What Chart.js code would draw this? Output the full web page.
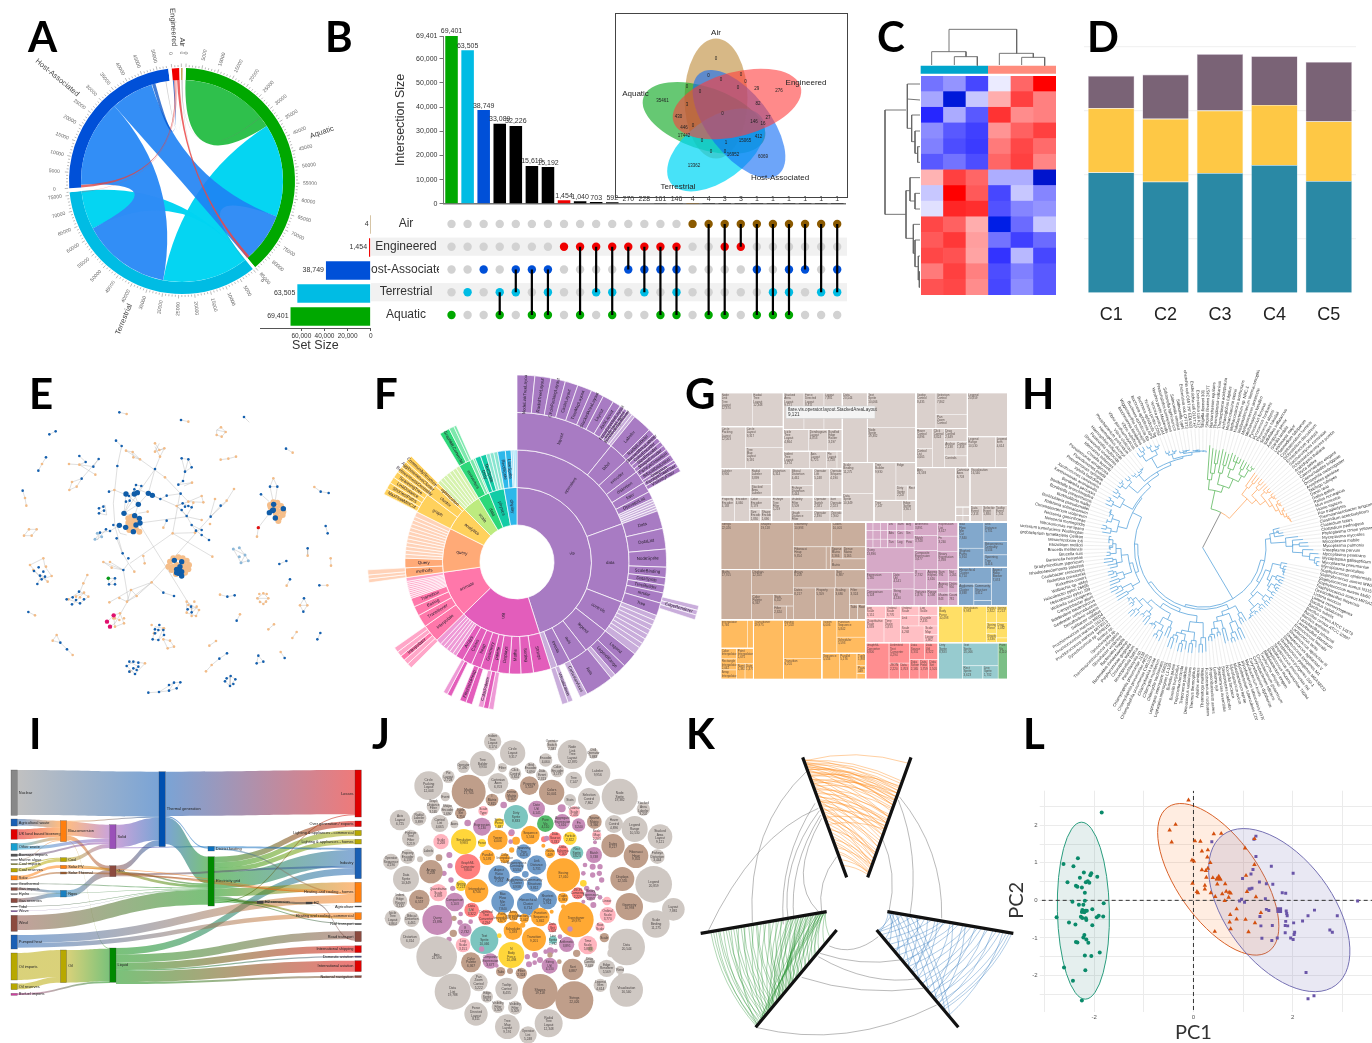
<!DOCTYPE html>
<html>
<head>
<meta charset="utf-8">
<title>Chart gallery</title>
<script src="https://cdn.jsdelivr.net/npm/chart.js@4"></script>
<style>
  html, body { margin: 0; background: #fff; overflow: hidden; }
  canvas { position: absolute; }
  .tag { position: absolute; font: 700 42px Lato, "Liberation Sans", sans-serif; color: #000; line-height: 42px; }
</style>
</head>
<body>
<script>
// ---------- A: chord ----------
const chordSets = ['Aquatic', '', 'Terrestrial', '', 'Host-Associated', '', 'Engineered', '', 'Air', ''];
const chordValues = [85000, 926, 76000, 1235, 53500, 1111, 2400, 617, 400, 1033];
const chordColors = ['#00A800', '#fff', '#00BCE4', '#fff', '#0050D8', '#fff', '#F00000', '#fff', '#A87000', '#fff'];
// from set, from value, to value, to set, from value, to value, colour
const chordFlows = [
  [0, 0, 34000, 0, 0, 0, 'rgba(40,190,70,.97)'],
  [0, 34000, 67000, 2, 0, 30600, 'rgba(0,212,242,.98)'],
  [2, 62200, 76000, 2, 0, 0, 'rgba(0,212,242,.98)'],
  [4, 1000, 31900, 2, 30600, 62200, 'rgba(46,140,246,.98)'],
  [0, 67000, 85000, 4, 31900, 47000, 'rgba(30,130,244,.9)'],
  [4, 47200, 48400, 6, 0, 400, 'rgba(0,80,200,.75)'],
  [4, 0, 900, 6, 500, 800, 'rgba(220,70,70,.8)'],
  [0, 84000, 85000, 6, 1500, 2400, 'rgba(235,70,70,.85)'],
  [6, 800, 1500, 2, 75500, 75800, 'rgba(235,70,70,.3)'],
  [8, 0, 200, 0, 30000, 30300, 'rgba(120,120,120,.35)'],
  [8, 200, 400, 4, 52000, 52300, 'rgba(120,120,120,.35)'],
  [8, 100, 300, 2, 200, 400, 'rgba(120,120,120,.3)']
];

// ---------- B: upset ----------
const intersectionLabels = ['A', 'T', 'H', 'TA', 'HT', 'HA', 'HTA', 'E', 'EA', 'ET', 'ETA', 'EH', 'EHT', 'EHA', 'EHTA', 'Air', 'AirA', 'AirEA', 'AirE', 'AirHA', 'AirTA', 'AirHTA', 'AirH', 'AirT', 'AirHT'];
const intersectionValues = [69401, 63505, 38749, 33089, 32226, 15619, 15192, 1454, 1040, 703, 592, 270, 228, 161, 146, 4, 4, 3, 3, 1, 1, 1, 1, 1, 1];
const intersectionColors = ['#00A800', '#00BCE4', '#0050D8', '#000', '#000', '#000', '#000', '#F00000', '#000', '#000', '#000', '#000', '#000', '#000', '#000', '#A06000', '#000', '#000', '#000', '#000', '#000', '#000', '#000', '#000', '#000'];
const setNames = ['Air', 'Engineered', 'Host-Associated', 'Terrestrial', 'Aquatic'];
const setSizes = [4, 1454, 38749, 63505, 69401];
const setColors = ['#8B5A00', '#F00000', '#0050D8', '#00BCE4', '#00A800'];
const memberships = [[4], [3], [2], [3, 4], [2, 3], [2, 4], [2, 3, 4], [1], [1, 4], [1, 3], [1, 3, 4], [1, 2], [1, 2, 3], [1, 2, 4], [1, 2, 3, 4], [0], [0, 4], [0, 1, 4], [0, 1], [0, 2, 4], [0, 3, 4], [0, 2, 3, 4], [0, 2], [0, 3], [0, 2, 3]];
const vennLabels = [['Air', 716, 33], ['Engineered', 806, 83], ['Aquatic', 635.5, 94], ['Host-Associated', 780, 178], ['Terrestrial', 678, 187]];
const vennCounts = [['0', 716, 59], ['35461', 662.6, 101], ['276', 779, 91], ['13362', 694, 166], ['6069', 763, 157], ['0', 722.6, 114], ['17442', 684, 136], ['15065', 745, 141], ['16952', 733, 155], ['412', 758.5, 137], ['146', 754, 122], ['430', 678.5, 117], ['446', 684, 128], ['82', 758, 104], ['29', 756.7, 89], ['27', 768, 118], ['16', 763, 124], ['3', 687, 105], ['1', 726, 143], ['0', 708.5, 76], ['0', 741, 75], ['0', 721, 80], ['0', 687, 87], ['0', 700, 92], ['0', 745.5, 82], ['0', 738, 88], ['0', 693, 126], ['0', 702, 141], ['0', 711, 152], ['0', 725, 152]];
// centre x, centre y, semi major, semi minor, rotation degrees, colour
const vennEllipses = [
  [716, 98.5, 60, 31.5, 90, 'rgba(190,140,60,.62)'],
  [704, 118, 64, 31, 19, 'rgba(20,170,40,.65)'],
  [716, 150, 56, 31, -36, 'rgba(0,215,245,.72)'],
  [739, 124, 64, 31, 52, 'rgba(20,110,245,.62)'],
  [737, 104, 66, 32, -15, 'rgba(255,60,60,.6)']
];

// ---------- C: heatmap ----------
const heatColumns = ['s1', 's2', 's3', 's4', 's5', 's6'];
const heatRows = [
  [-.55, -.42, -.72, -.08, .6, 1], [-.35, -1.15, -.22, .32, .75, .5], [-.85, -.33, -.65, .8, .45, .5],
  [-.45, -.65, -.75, .42, .62, .75], [-.5, -.7, -.77, .52, .72, .58], [-.65, -.55, -.7, .6, .75, .48],
  [.3, .75, .6, -.32, -.32, -1.2], [-.22, 1, .65, -.72, -.22, -.48], [-.12, .85, .82, -.68, -.48, -.42],
  [.72, .62, .32, -1.1, -.58, -.22], [.65, .78, .38, -.55, -.75, -.58], [.72, .68, .36, -.8, -.28, -.72],
  [.52, .75, .5, -.7, -.5, -.65], [.68, .72, .45, -.72, -.45, -.65]
];
const heatDendro = [
  [237, 155, 237, 88, 440, 88, 440, 160], [185, 195, 185, 155, 288, 155, 288, 170], [253, 195, 253, 170, 322, 170, 322, 197],
  [388, 195, 388, 160, 490, 160, 490, 172], [455, 195, 455, 172, 524, 172, 524, 197],
  [108, 330, 45, 330, 45, 643, 108, 643], [150, 252, 112, 252, 112, 385, 125, 385], [112, 297, 150, 300],
  [150, 345, 125, 345, 125, 425, 135, 425], [150, 393, 135, 393, 135, 460, 143, 460], [150, 440, 143, 440, 143, 487, 150, 487],
  [108, 572, 108, 715, 130, 715], [108, 572, 120, 572], [150, 533, 120, 533, 120, 603, 135, 603], [150, 580, 135, 580, 135, 627, 150, 627],
  [150, 673, 130, 673, 130, 760, 135, 760], [150, 720, 135, 720, 135, 800, 145, 800], [150, 768, 145, 768, 145, 840, 150, 840], [150, 815, 148, 815, 148, 862, 150, 862]
];

// ---------- D: stacked bars ----------
const clusterLabels = ['C1', 'C2', 'C3', 'C4', 'C5'];
const clusterTeal = [1.875, 1.73, 1.865, 1.99, 1.74];
const clusterYellow = [1.0, .98, .974, .9375, .93];
const clusterPurple = [.505, .69, .88, .76, .927];

// ---------- E: network ----------
const netEdges = [
  [358, 127, 380, 132], [543, 150, 565, 155], [732, 141, 748, 157], [148, 193, 167, 184], [138, 262, 126, 282, 115, 302], [68, 362, 75, 384, 79, 407], [858, 236, 878, 248], [662, 269, 685, 266, 708, 260],
  [348, 212, 365, 228, 352, 288, 340, 400, 345, 470, 368, 550, 385, 580, 403, 605], [207, 282, 238, 284, 257, 276, 238, 258], [238, 284, 280, 290, 296, 267, 245, 326, 230, 350, 208, 360, 216, 336, 245, 326], [238, 284, 286, 314],
  [378, 242, 420, 268, 495, 322, 565, 395], [378, 242, 398, 246, 420, 268], [398, 246, 400, 262, 420, 268], [465, 220, 478, 240, 493, 235, 480, 260, 465, 297, 445, 370], [465, 230, 480, 260], [465, 297, 372, 430],
  [545, 265, 565, 268, 575, 292, 555, 305, 549, 333, 535, 344, 576, 338, 552, 348], [545, 265, 555, 305], [565, 268, 555, 305], [327, 365, 343, 360, 372, 372, 403, 372, 424, 362, 445, 370, 481, 387, 500, 377, 542, 371],
  [372, 430, 408, 345], [372, 430, 378, 372], [372, 430, 415, 403, 445, 370], [415, 403, 378, 372], [403, 372, 415, 403], [408, 345, 424, 348, 412, 368, 403, 372], [372, 430, 404, 437], [404, 437, 415, 403], [420, 459, 560, 440, 605, 450], [415, 430, 443, 425],
  [457, 376, 530, 408, 560, 438], [530, 408, 565, 395, 605, 378, 610, 397, 565, 395], [530, 408, 548, 400, 575, 412, 560, 438, 545, 420, 530, 408], [575, 412, 580, 398],
  [518, 490, 540, 370], [518, 490, 585, 488], [518, 490, 637, 560], [518, 490, 390, 580], [500, 452, 490, 473], [560, 438, 575, 465, 588, 482, 605, 495, 627, 510], [575, 465, 605, 480], [630, 440, 645, 387], [632, 440, 662, 407, 680, 392, 702, 357], [632, 440, 680, 395],
  [455, 637, 632, 440], [381, 695, 455, 637], [381, 695, 393, 660, 455, 637], [381, 695, 410, 678, 455, 637], [328, 697, 393, 660], [358, 684, 381, 695], [370, 600, 385, 690, 345, 760], [370, 600, 310, 576, 335, 593, 370, 600], [330, 576, 370, 600], [385, 580, 370, 600], [350, 505, 367, 550], [420, 465, 575, 715],
  [455, 637, 490, 668, 522, 678], [430, 558, 434, 580], [394, 660, 410, 678], [285, 508, 300, 488, 330, 483, 358, 466, 378, 472], [300, 488, 292, 510, 318, 478], [350, 465, 360, 490, 380, 495], [297, 415, 315, 405, 320, 435, 297, 430, 310, 420], [72, 497, 87, 478, 110, 478, 95, 497, 72, 497],
  [85, 726, 105, 736], [158, 812, 170, 795, 181, 818, 201, 838, 218, 855], [158, 812, 181, 818], [660, 674, 682, 680, 704, 676], [720, 733, 710, 752], [822, 763, 805, 778], [890, 786, 877, 804], [961, 789, 952, 808], [648, 813, 628, 827], [842, 846, 854, 864], [681, 850, 658, 866, 635, 885, 618, 904],
  [775, 857, 770, 880, 790, 875, 775, 857], [870, 628, 860, 647], [958, 646, 982, 646], [923, 535, 923, 557], [992, 565, 993, 587], [838, 582, 859, 573], [977, 468, 983, 490], [943, 351, 962, 365, 986, 369], [783, 373, 808, 395], [775, 473, 771, 500], [775, 473, 808, 430], [820, 325, 810, 350, 832, 350, 820, 325], [810, 350, 820, 397], [832, 350, 825, 397],
  [445, 968, 477, 966, 507, 962, 522, 938, 541, 937, 530, 955, 507, 962], [477, 966, 522, 938], [325, 625, 327, 643, 345, 643, 345, 625, 325, 625], [345, 625, 327, 643], [912, 685, 900, 706, 910, 725, 922, 706, 912, 685], [900, 706, 922, 706],
  [700, 537, 735, 555, 745, 572, 723, 578, 700, 537], [718, 533, 735, 555, 723, 578], [560, 695, 597, 720, 588, 738, 560, 728, 560, 695], [575, 705, 575, 730, 590, 712, 565, 718],
  [650, 180, 663, 172, 677, 186, 665, 200, 650, 195, 650, 180], [650, 180, 677, 186], [465, 770, 490, 775, 492, 795, 475, 810, 458, 808, 465, 770], [465, 790, 490, 775, 475, 810], [490, 808, 510, 812, 522, 830, 503, 835, 490, 808], [130, 565, 135, 590, 155, 618, 125, 628, 90, 585, 130, 565], [112, 642, 125, 615, 143, 635, 102, 603],
  [262, 615, 250, 640, 240, 665], [240, 665, 265, 680, 240, 700, 205, 688, 240, 665], [220, 702, 252, 668, 225, 680], [360, 730, 372, 760, 345, 770, 340, 735, 360, 730], [322, 755, 342, 736], [330, 770, 345, 760],
  [400, 875, 435, 880, 405, 912, 380, 888, 400, 875], [392, 877, 415, 890, 388, 905], [692, 918, 706, 928, 690, 948, 675, 934, 692, 918], [692, 918, 690, 948], [790, 670, 805, 685, 790, 702, 772, 685, 790, 670], [772, 685, 805, 685], [478, 220, 465, 245, 495, 235]
];
const netBlueSmall = [[358, 127], [543, 150], [732, 141], [148, 193], [167, 184], [138, 262], [115, 302], [68, 362], [858, 236], [348, 212], [365, 228], [352, 288], [238, 258], [257, 276], [280, 290], [296, 267], [245, 326], [465, 297], [545, 265], [565, 268], [575, 292], [555, 305], [549, 333], [535, 344], [327, 365], [481, 387], [500, 377], [542, 371], [424, 348], [408, 345], [403, 358], [387, 378], [378, 395], [389, 392], [297, 415], [310, 410], [297, 430], [312, 422], [318, 478], [330, 483], [340, 465], [300, 488], [350, 505], [368, 550], [385, 565], [370, 600], [548, 400], [575, 412], [560, 438], [545, 420], [565, 408], [555, 410], [500, 452], [575, 465], [588, 482], [605, 495], [627, 510], [605, 480], [632, 440], [662, 407], [783, 373], [810, 350], [832, 350], [977, 468], [983, 490], [923, 535], [838, 582], [859, 573], [870, 628], [958, 646], [962, 365], [986, 369], [704, 676], [682, 680], [710, 752], [961, 789], [952, 808], [854, 864], [681, 850], [658, 866], [770, 880], [790, 875], [775, 857], [910, 725], [912, 685], [327, 643], [345, 625], [345, 643], [522, 678], [490, 668], [85, 726], [181, 818], [201, 838], [445, 968], [477, 966], [507, 962], [522, 938], [541, 937], [530, 955], [507, 945], [692, 918], [706, 928], [690, 948], [675, 934], [700, 942], [680, 925], [112, 642], [102, 603], [125, 628], [135, 620], [130, 605], [116, 592], [120, 617], [200, 688], [216, 703], [240, 700], [218, 682], [228, 690], [237, 665], [252, 688], [458, 808], [465, 790], [478, 765], [490, 780], [475, 780], [465, 778], [492, 795], [475, 810], [380, 888], [388, 875], [400, 875], [415, 878], [415, 890], [405, 912], [388, 905], [400, 895], [410, 900], [573, 710], [575, 727], [563, 718]];
const netBlueBig = [[372, 430], [404, 437], [418, 445], [420, 459], [377, 472], [408, 465], [400, 485], [358, 466], [415, 403], [403, 372], [445, 370], [378, 372], [412, 368], [457, 376], [821, 403], [850, 416], [808, 428], [817, 422], [826, 444], [820, 420], [523, 571], [530, 598], [540, 590], [545, 575], [535, 610], [545, 605], [545, 618], [538, 600], [530, 608]];
const netOrangeSmall = [[380, 132], [565, 155], [126, 282], [75, 384], [79, 407], [878, 248], [662, 269], [685, 266], [708, 260], [207, 282], [238, 284], [286, 314], [230, 350], [208, 360], [216, 336], [378, 242], [398, 246], [400, 262], [420, 268], [495, 322], [465, 220], [478, 240], [493, 235], [480, 260], [465, 245], [576, 338], [343, 360], [443, 425], [530, 408], [565, 395], [605, 378], [610, 397], [580, 398], [490, 473], [518, 490], [585, 488], [637, 560], [605, 450], [630, 462], [645, 387], [680, 392], [702, 357], [455, 637], [381, 695], [393, 660], [410, 678], [328, 697], [358, 684], [310, 576], [335, 593], [330, 576], [403, 605], [430, 558], [434, 580], [72, 497], [87, 478], [110, 478], [95, 497], [105, 736], [158, 812], [170, 795], [218, 855], [660, 674], [720, 733], [822, 763], [805, 778], [890, 786], [877, 804], [648, 813], [628, 827], [842, 846], [635, 885], [618, 904], [860, 647], [982, 646], [923, 557], [992, 565], [993, 587], [943, 351], [771, 500], [820, 325], [900, 706], [922, 706], [663, 172], [677, 186], [665, 200], [650, 195], [90, 585], [130, 565], [138, 590], [155, 618], [143, 635], [100, 600], [262, 615], [250, 640], [205, 688], [252, 668], [265, 680], [228, 680], [240, 682], [455, 765], [490, 775], [462, 790], [492, 775], [510, 812], [522, 830], [503, 835], [490, 808], [435, 880], [390, 905], [360, 730], [372, 760], [345, 770], [358, 750], [345, 745], [372, 745], [340, 745], [583, 695], [597, 720], [588, 738], [560, 695], [560, 728], [590, 710], [575, 738], [565, 705], [790, 670], [805, 685], [790, 702], [772, 685], [778, 672], [800, 672], [798, 695], [780, 696]];
const netOrangeBig = [[385, 445], [395, 440], [405, 445], [415, 448], [385, 458], [395, 455], [405, 458], [390, 468], [400, 472], [388, 480], [398, 480], [408, 478], [418, 485], [810, 405], [820, 397], [832, 398], [843, 408], [850, 425], [848, 435], [838, 443], [828, 432], [815, 415], [828, 415], [840, 425], [835, 453], [812, 412], [520, 565], [535, 562], [548, 565], [560, 572], [567, 585], [565, 598], [555, 608], [528, 612], [515, 600], [505, 590], [510, 575], [530, 585], [550, 585], [555, 595], [520, 590]];
const netLightBlue = [[700, 537], [718, 533], [735, 555], [745, 572], [723, 578], [718, 560], [285, 508], [292, 490], [305, 500]];
const netPink = [[341, 736], [321, 755], [330, 770]];
const netGreen = [[325, 625]];
const netRed = [[775, 473]];

// ---------- F: sunburst, each entry is [end angle, label, colour] ----------
const P = '#A87BC3', PL = '#C9ADDB', K = '#E35DBB', KL = '#EE9AD6', R = '#FF77AA', RL = '#FFA6C8', O = '#FFAA77', OL = '#FFD2B8', Y = '#FFD15C', YL = '#FFE08F', L = '#BDEB7F', LL = '#D6F2AE', G = '#2DD87A', GL = '#7CE8AC', T = '#12CCA6', TL = '#88E5D0', B = '#2DB8EA', BL = '#8AD8F3';
const burstRing1 = [[162.4, 'vis', P], [225.7, 'util', K], [262, 'animate', R], [296.6, 'query', O], [315, 'analytics', Y], [329, 'scale', L], [338, 'data', G], [350, 'physics', T], [360, 'display', B]];
const burstRing2 = [[70, 'operators', P], [111, 'data', P], [128, 'controls', P], [142, 'legend', P], [152, 'axis', P], [159, 'events', P], [162.4, '', PL],
  [171.5, 'Strings', K], [178, 'Sorting', K], [184, 'Maths', K], [190, 'Displays', K], [194, 'palette', K], [199, 'Geometry', K], [204, 'heap', K], [209, 'Colors', K], [213, 'Arrays', K], [215, '', KL], [217, '', KL], [219, '', KL], [221, '', KL], [223, '', KL], [225.7, '', KL],
  [235, 'interpolate', R], [241.5, 'Transitioner', R], [246.5, 'Easing', R], [251, 'Transition', R], [252, '', RL], [253, '', RL], [254, '', RL], [255, '', RL], [256, '', RL], [257, '', RL], [258, '', RL], [259, '', RL], [260, '', RL], [262, '', RL],
  [267, 'methods', O], [272, 'Query', O], [274, '', OL], [276, '', OL], [278, '', OL], [280, '', OL], [282, '', OL], [284, '', OL], [286, '', OL], [288, '', OL], [290, '', OL], [292, '', OL], [294, '', OL], [296.6, '', OL],
  [307, 'graph', Y], [313, 'cluster', Y], [315, 'optimization', Y], [317, '', LL], [319, '', LL], [321, '', LL], [323, '', LL], [325, '', LL], [327, '', LL], [329, '', LL],
  [335, 'converters', G], [337, '', GL], [338, '', GL], [341, 'Dirty', T], [344, 'TextSprite', T], [346, '', TL], [348, '', TL], [350, '', TL], [354, 'RectSprite', B], [357, 'LineSprite', B], [358, '', BL], [359, '', BL], [360, '', BL]];
const burstRing3 = [[39, 'layout', P], [47, 'label', P], [53, 'encoder', P], [58, 'distortion', P], [62, 'filter', P], [65, 'OperatorList', P], [66, '', PL], [67, '', PL], [68, '', PL], [69, '', PL], [70, '', PL],
  [77, 'Data', P], [85, 'DataList', P], [92, 'NodeSprite', P], [96, 'ScaleBinding', P], [99, 'DataSprite', P], [102, 'TreeBuilder', P], [106, 'render', P], [111, 'Tree', P],
  [113, '', PL], [115, '', PL], [117, '', PL], [119, '', PL], [121, '', PL], [123, '', PL], [125, '', PL], [128, '', PL],
  [134, 'Legend', P], [139, 'LegendRange', P], [141, '', PL], [152, 'Axis', P], [155, 'CartesianAxes', PL], [158, '', null], [160, 'Visualization', PL], [162.4, '', PL],
  [189, '', null], [191, '', KL], [193, '', K], [195, 'ColorPalette', KL], [197.5, '', null], [200, '', K], [202.5, 'FibonacciHeap', K], [206, '', null], [207.8, '', K], [209.5, '', KL], [225, '', null],
  [227, '', RL], [229, '', RL], [231, 'Interpolator', R], [233, '', RL], [235, '', RL], [262, '', null], [263.5, '', OL], [265, '', OL], [267, '', OL], [297, '', null],
  [299.5, 'MaxFlowMinCut', Y], [302, 'ShortestPaths', Y], [304.5, 'LinkDistance', Y], [307, 'SpanningTree', Y], [309.5, 'BetweennessCentrality', Y], [312, 'AgglomerativeCluster', Y], [315, 'CommunityStructure', Y], [329, '', null],
  [333, 'GraphMLConverter', G], [335, '', GL], [336, '', GL], [360, '', null]];
const burstRing4 = [[5.5, 'NodeLinkTreeLayout', P], [10.5, 'RadialTreeLayout', P], [15, 'CirclePackingLayout', P], [19, 'CircleLayout', P], [23.5, 'TreeMapLayout', P], [27.5, 'StackedAreaLayout', P], [31, 'Layout', P], [33.5, 'AxisLayout', P], [35, 'ForceDirectedLayout', P], [36, 'IcicleTreeLayout', P], [37, 'BundledEdgeRouter', P], [38, '', PL], [39, '', PL],
  [45, 'Labeler', P], [47, 'RadialLabeler', P], [48.5, 'StackedAreaLabeler', P], [50, 'ColorEncoder', P], [51.5, 'SizeEncoder', P], [53, 'ShapeEncoder', P], [55, 'FisheyeDistortion', P], [57, 'BifocalDistortion', P], [58, 'Distortion', P], [59.5, 'FisheyeTreeFilter', P], [61, 'VisibilityFilter', P], [103.5, '', null], [105, '', PL], [106.5, 'EdgeRenderer', PL], [108, '', PL], [360, '', null]];

// ---------- G: treemap, leaf is [size, name, value], branch is [size, ...children] ----------
const treeGray = [387,
  [365,
    [227,
      [188, [102, [95, 'Node Link Tree Layout', '12,870'], [93, 'Radial Tree Layout', '12,348']], [125, [75, 'Circle Packing Layout', '12,003'], [113, [62, 'Circle Layout', '9,317'], [63, 'Tree Map Layout', '9,191']]]],
      [177, [110, [62, 'Stacked Area Layout', '9,121'], [60, 'Force Directed Layout', '8,411'], [55, 'Layout', '7,881']], [65, [76, 'Icicle Tree Layout', '4,864'], [55, 'Dendrogram Layout', '4,853'], [45, 'Bundled Edge Router', '3,197']], [52, [75, 'Indent Tree Layout', '3,174'], [47, 'Axis Layout', '6,725'], [30, 'Pie Layout', '2,728'], [15, 'Radial']]]],
    [160,
      [153, [85, [90, 'Labeler', '9,956'], [63, [47, 'Radial Labeler', '3,899'], [38, 'Stacked Area Labeler', '3,202']]], [75, [42, 'Property Encoder', '4,138'], [45, 'Encoder', '4,060'], [66, [38, 'Color Encoder', '3,179'], [37, [33, 'Size Encoder', '1,830'], [33, 'Shape Encoder', '1,690']]]]],
      [125, [85, [57, 'Distortion', '6,314'], [68, [50, 'Bifocal Distortion', '4,461'], [35, 'Fisheye Distortion', '3,444']]], [75, [57, 'Fisheye Tree Filter', '5,219'], [68, [40, 'Visibility Filter', '3,509'], [35, 'Graph Distance Filter', '3,165']]]],
      [87, [85, [48, 'Operator List', '5,248'], [39, 'Operator Sequence', '4,190']], [40, [48, 'Operator Switch', '2,581'], [39, 'Sort Operator', '2,023']], [35, [50, 'Operator', '2,490'], [37, 'Operator', '1,900']]]]],
  [221,
    [209, [75, 'Data', '20,544'], [146, [104, 'Text Sprite', '10,066'], [105, 'Node Sprite', '19,382']]],
    [178, [95, [93, 'Scale Binding', '11,275'], [85, 'Data Sprite', '10,349']], [126, [113, [66, 'Tree Builder', '9,930'], [60, [70, 'Edge'], [43, [35, 'Dirty Sprite', '2,247'], [25, 'Rect']]]], [65, [85, 'Tree', '7,147'], [41, 'Edge Sprite', '3,301']]]]],
  [275,
    [224,
      [154, [107, [60, 'Tooltip Control', '8,435'], [94, [65, 'Selection Control', '7,862'], [42, 'Pan Zoom Control', '5,222']]], [117, [50, [60, 'Hover Control', '4,896'], [57, 'Control List', '4,665']], [35, 'Click Control', '3,824'], [69, [40, 'Drag Control', '2,649'], [42, [35, 'Anchor', '2,138'], [34, 'Control', '1,353']], [35, [69, 'Controls']]]]],
      [121, [132, 'Legend', '20,859'], [92, [85, 'Legend Range', '10,530'], [36, 'Legend Item', '4,614']]]],
    [163, [119, 'Axis', '24,593'], [43, [118, 'Cartesian Axes', '6,703'], [25, [22, 'Axes'], [21, 'Grid']], [20, [22, 'Grid'], [21, 'Lab']]], [113, [113, 'Visualization', '16,540'], [50, [37, 'Data Event', '2,313'], [38, 'Selection Event', '1,880'], [38, 'Tooltip Event', '1,701']]]]]
];
const treeBrown = [292, [1,
  [142, [117, 'Strings', '22,026'], [100, 'Shapes', '19,118'],
    [216, [74, [115, 'Geometry', '10,993'], [101, 'Colors', '10,001']], [68, [98, 'Fibonacci Heap', '9,354'], [14, 'Tuple'], [104, [36, [36, 'Sparse Matrix', '3,366'], [68, 'Dense Matrix', '3,165']], [32, [104, 'I Matrix', '2,815']]]]]],
  [150, [92, 'Maths', '17,705'],
    [125, [74, 'Displays', '12,555'], [76, [65, 'Color Palette', '6,367'], [60, [35, 'Stats', '6,557'], [41, [40, 'Filter', '2,324'], [20, 'Tuple']]]]],
    [216, [55, [125, 'Arrays', '8,258'], [91, 'Sort', '6,887']], [95, [66, 'Dates', '8,217'], [57, 'Property', '5,559'], [45, 'Scaling', '3,680'], [48, [50, 'Filter', '3,324'], [45, [24, 'Tabs'], [24, 'Root']]]]]]]];
const treeOrange = [178,
  [98, [85, [80, 'Interpolator', '8,746'], [18, 'Matrix', '2,202']], [93, [48, [32, 'Color Interpolator', '2,047'], [33, 'Rectangle Interpolator', '2,042'], [28, 'Array Interpolator', '1,983']], [50, [45, 'Point Interpolator', '1,675'], [48, [24, 'Number', '1,382'], [24, 'Date', '1,375']]]]],
  [90, 'Transitioner', '19,975'],
  [115, [115, 'Easing', '17,010'], [63, 'Transition', '9,201']],
  [131, [100, [45, 'Tween', '6,006'], [86, [52, 'Function Sequence', '5,842'], [48, 'Scheduler', '5,593']]], [78, [52, 'Sequence', '5,534'], [53, 'Parallel', '5,176'], [26, [36, 'Tuple', '1,983'], [25, 'Pause', '449'], [17, 'Pause']]]]];
const treePurple = [277, [1,
  [145, [77, [66, [25, [22, 'And'], [22, 'Or'], [22, 'Xor']], [26, [22, 'Not'], [22, 'Mod'], [22, 'Add']], [26, [22, 'Sub'], [22, 'Max'], [22, 'Min']]], [79, [25, [26, 'Div'], [26, 'Sum'], [27, 'Avg']], [26, [26, 'Abs'], [26, 'Cos'], [27, 'Sin']], [26, [26, 'Tan'], [26, 'Log'], [27, 'Pow']]]],
    [73, 'Query', '13,896'], [100, [80, [51, 'Expression', '5,130'], [50, 'Comparison', '5,103']], [65, [50, 'Date Util', '4,141'], [50, 'String Util', '4,130']]]],
  [132, [142, [70, [40, 'Arithmetic', '3,891'], [45, 'Match', '3,748'], [57, 'Composite Expression', '3,677']], [62, [42, 'Expression List', '3,617'], [45, 'Fn', '3,240'], [55, 'Binary Expression', '2,893']]],
    [108, [37, [60, 'If', '2,732'], [48, 'Variance', '1,876']], [33, [60, 'Aggregate Expression', '1,616'], [48, 'Range', '1,594']], [32, [35, 'Sum', '791'], [35, 'Average', '891'], [38, 'Maximum', '843']], [30, [35, 'Not', '1,051'], [35, 'Distinct', '950'], [38, 'Count', '781']]]]]];
const treeBlue = [148,
  [135, [77, [78, 'Max Flow Min Cut', '7,840'], [57, 'Shortest Paths', '5,914']], [71, [58, 'Link Distance', '5,731'], [40, 'Betweenness Centrality', '3,534'], [37, 'Spanning Tree', '3,416']]],
  [115, [100, [50, 'Hierarchical Cluster', '6,714'], [65, [47, 'Agglomerative Cluster', '3,938'], [53, [50, 'Community Structure', '3,812'], [15, 'Merge Edge', '1,302']]]], [48, 'Aspect Ratio Banker', '7,074']]];
const treePink = [110, [105, [38, [60, 'Log Scale', '3,151'], [45, 'Ordinal Scale', '3,770']], [72, [55, 'Quantitative Scale', '4,839'], [50, 'Time Scale', '5,833']]],
  [112, [60, [38, [55, 'Ordinal Scale', '3,770'], [57, 'Link']], [40, [55, 'Log Scale', '3,151'], [57, 'Quantile', '2,435']]], [50, [70, 'Scale', '4,268'], [42, [21, 'Scale Map', '2,203'], [21, 'Linear', '1,982']]]]];
const treeRed = [108, [70, 'GraphML Converter', '9,800'], [62, [60, 'Delimited Text Converter', '4,294'], [48, [31, 'JSON', '2,220'], [31, 'Data', '1,703']]], [85, [50, [45, 'Data Source', '3,331'], [40, 'Data Util', '3,322']], [58, [28, 'Data Schema', '2,165'], [28, 'Data Field', '1,759'], [29, 'Data Set', '1,501']]]];
const treeYellow = [110, [72, 'N Body Force', '10,498'], [70, 'Simulation', '9,983'], [63, [50, [30, 'Particle', '2,822'], [33, 'Spring', '2,213']], [60, [30, [28, 'Spring Force', '1,681'], [25, 'Gravity', '1,336']], [33, [25, 'Drag', '1,082'], [8, 'Force']]]]];
const treeTeal = [177, [1, [72, 'Dirty Sprite', '8,833'], [105, [68, 'Text Sprite', '10,066'], [40, [60, 'Rect Sprite', '3,623'], [45, 'Line Sprite', '1,732']]]]];
const treeGreen = [28, 'Pure Vis', '4,110'];
const treeRoot = [1, treeGray, [470, [434, treeBrown, treeOrange], [425, [250, treePurple, treeBlue], [220, [217, treePink, treeRed], [208, treeYellow, [108, treeTeal, treeGreen]]]]]];
const treeColors = new Map([[treeGray, '#DAD0CC'], [treeBrown, '#C9AE9D'], [treeOrange, '#FFBB5F'], [treePurple, '#D6A9C7'], [treeBlue, '#82A8CC'], [treePink, '#FFBFC4'], [treeRed, '#FF8E90'], [treeYellow, '#FFDF66'], [treeTeal, '#97CBCF'], [treeGreen, '#7BBF86']]);

// ---------- H: radial tree, node is [radius, ...children], a number is a leaf ----------
const lifeNames = ['Nanoarchaeum equitans', 'Thermoplasma volcanium', 'Thermoplasma acidophilum', 'Archaeoglobus fulgidus', 'Methanosarcina mazei', 'Methanosarcina acetivorans', 'Halobacterium sp. NRC-1', 'Methanobacterium thermautotrophicum', 'Methanococcus jannaschii', 'Methanopyrus kandleri', 'Pyrococcus furiosus', 'Pyrococcus horikoshii', 'Pyrococcus abyssi', 'Sulfolobus tokodaii', 'Sulfolobus solfataricus', 'Aeropyrum pernix',
  'Giardia lamblia', 'Leishmania major', 'Plasmodium falciparum', 'Cryptosporidium hominis', 'Dictyostelium discoideum', 'Eremothecium gossypii', 'Saccharomyces cerevisiae', 'Schizosaccharomyces pombe', 'Arabidopsis thaliana', 'Oryza sativa', 'Caenorhabditis elegans', 'Caenorhabditis briggsae', 'Drosophila melanogaster', 'Anopheles gambiae', 'Takifugu rubripes', 'Danio rerio', 'Gallus gallus', 'Rattus norvegicus', 'Mus musculus', 'Homo sapiens', 'Pan troglodytes',
  'Thermoanaerobacter tengcongensis', 'Clostridium acetobutylicum', 'Clostridium tetani', 'Clostridium perfringens', 'Phytoplasma Onion yellows', 'Mycoplasma mycoides', 'Mycoplasma mobile', 'Mycoplasma pulmonis', 'Ureaplasma parvum', 'Mycoplasma penetrans', 'Mycoplasma gallisepticum', 'Mycoplasma pneumoniae', 'Mycoplasma genitalium',
  'Staphylococcus epidermidis', 'Staphylococcus aureus MW2', 'Staphylococcus aureus N315', 'Staphylococcus aureus Mu50', 'Staphylococcus aureus MRSA252', 'Oceanobacillus iheyensis', 'Listeria innocua', 'Listeria monocytogenes', 'Bacillus halodurans', 'Bacillus subtilis', 'Bacillus cereus ATCC 14579', 'Bacillus cereus ATCC 10987', 'Bacillus anthracis', 'Lactobacillus johnsonii', 'Lactobacillus plantarum', 'Enterococcus faecalis', 'Lactococcus lactis', 'Streptococcus agalactiae III', 'Streptococcus agalactiae V', 'Streptococcus pyogenes M1', 'Streptococcus pyogenes MGAS8232', 'Streptococcus pyogenes SSI-1', 'Streptococcus pneumoniae R6', 'Streptococcus pneumoniae TIGR4', 'Streptococcus mutans',
  'Bifidobacterium longum', 'Tropheryma whipplei', 'Corynebacterium glutamicum', 'Corynebacterium efficiens', 'Corynebacterium diphtheriae', 'Mycobacterium bovis', 'Mycobacterium tuberculosis H37Rv', 'Mycobacterium tuberculosis CDC1551', 'Mycobacterium leprae', 'Mycobacterium avium', 'Nocardia farcinica', 'Streptomyces coelicolor', 'Streptomyces avermitilis', 'Leifsonia xyli', 'Propionibacterium acnes',
  'Fusobacterium nucleatum', 'Thermotoga maritima', 'Aquifex aeolicus', 'Thermus thermophilus', 'Deinococcus radiodurans', 'Treponema pallidum', 'Treponema denticola', 'Borrelia burgdorferi', 'Borrelia garinii', 'Leptospira interrogans L1-130', 'Leptospira interrogans 56601', 'Chlamydia trachomatis', 'Chlamydia muridarum', 'Chlamydophila caviae', 'Chlamydophila pneumoniae CWL029', 'Chlamydophila pneumoniae AR39', 'Chlamydophila pneumoniae J138', 'Parachlamydia sp.', 'Rhodopirellula baltica', 'Chlorobium tepidum', 'Porphyromonas gingivalis', 'Bacteroides thetaiotaomicron', 'Bacteroides fragilis', 'Gloeobacter violaceus', 'Thermosynechococcus elongatus', 'Synechocystis sp.', 'Nostoc sp.', 'Synechococcus sp. WH8102', 'Prochlorococcus marinus MIT9313', 'Prochlorococcus marinus SS120', 'Prochlorococcus marinus MED4',
  'Solibacter usitatus', 'Desulfovibrio vulgaris', 'Geobacter sulfurreducens', 'Bdellovibrio bacteriovorus', 'Campylobacter jejuni', 'Wolinella succinogenes', 'Helicobacter pylori J99', 'Helicobacter pylori 26695', 'Wolbachia sp. wMel', 'Rickettsia conorii', 'Rickettsia prowazekii', 'Caulobacter crescentus', 'Rhodopseudomonas palustris', 'Bradyrhizobium japonicum', 'Bartonella henselae', 'Brucella suis', 'Brucella melitensis', 'Rhizobium meliloti', 'Mesorhizobium loti', 'Agrobacterium tumefaciens Cereon', 'Agrobacterium tumefaciens Washington',
  'Nitrosomonas europaea', 'Neisseria meningitidis', 'Neisseria gonorrhoeae', 'Chromobacterium violaceum', 'Ralstonia solanacearum', 'Burkholderia pseudomallei', 'Burkholderia mallei', 'Bordetella parapertussis', 'Bordetella bronchiseptica', 'Bordetella pertussis', 'Xanthomonas axonopodis', 'Xanthomonas campestris', 'Xylella fastidiosa', 'Pseudomonas syringae', 'Pseudomonas putida', 'Pseudomonas aeruginosa', 'Coxiella burnetii', 'Idiomarina loihiensis', 'Shewanella oneidensis', 'Pasteurella multocida', 'Haemophilus influenzae', 'Haemophilus ducreyi', 'Photobacterium profundum', 'Vibrio cholerae', 'Vibrio parahaemolyticus', 'Vibrio vulnificus', 'Blochmannia floridanus', 'Wigglesworthia brevipalpis', 'Buchnera aphidicola Bp', 'Buchnera aphidicola APS', 'Buchnera aphidicola Sg', 'Yersinia pestis CO92', 'Yersinia pestis KIM', 'Yersinia pestis Medievalis', 'Photorhabdus luminescens', 'Salmonella typhimurium', 'Salmonella enterica', 'Salmonella typhi', 'Escherichia coli CFT073', 'Escherichia coli O157:H7 EDL933', 'Escherichia coli O157:H7', 'Escherichia coli K12', 'Shigella flexneri 301', 'Shigella flexneri 2457T'];
const lifeGreen = [175, [205, 308, [225, 300, [255, 297, 296]]], [195, [230, 302, [255, 296, 292]], [225, [250, 298, [275, 295, 292, 290]], [245, [262, 290, 288], [270, 286, [280, 285, 284]]]]]];
const lifeOrange = [198, [225, 274, [245, 272, 270]], [215, [240, [255, 272, 270], 270], [235, [250, 268, [258, 268, 266]], [245, [258, 268, [262, 268, 266]], [255, [262, 270, [266, 270, 268]], [262, [268, 272, 270], [270, 272, [274, 274, [276, 276, 278]]]]]]]]];
const lifeMollicutes = [205, [218, 238, [232, 226, 246], 246], [250, 288, [270, 302, [290, 316, 318], [300, 332, [322, 348, [338, 352, [345, 353, 352]]]]]]];
const lifeBacilli = [200, [215, [240, 258, [250, 258, [254, 258, 258, 258]]], [225, [238, 262, [250, 262, 262]], [232, [245, 260, [252, 260, 260]], [248, 258, 258]]]], [210, [235, [252, 260, 258], [248, 262, 262]], [235, [245, 260, [252, 258, 258]], [245, [250, 256, 256], [252, 254, [254, 254, 254]]]]]];
const lifeActino = [200, [225, 255, [240, 255, 258]], [212, [240, [265, 300, 300], [270, 296, [285, 298, 298]]], [225, [250, 290, 295], [245, [258, 268, 270], [262, 275, [268, 282, 280]]]]]];
const lifeOthers = [205, [225, [270, 312, [290, 315, 315]], [255, [280, 300, [290, 318, 318]], [265, [285, 310, [295, 320, 320]], [275, 296, [285, 318, 316]]]]], [220, [240, [258, 290, 288], [262, [280, 310, [295, 306, 305]], [272, 284, [276, 278, 278]]]], [235, [252, [262, 290, 286], [268, 274, 276]], [250, [270, 290, [280, 300, 298]], [262, [268, 276, 278], [270, 275, 272]]]]]];
const lifeEpsilon = [215, [240, [262, 300, 298], [270, 296, [282, 306, 305]]], [225, [250, [268, 300, 298], [270, 290, [278, 295, 294]]], [245, [262, 285, 290, [272, 300, 298]], [260, [278, 290, 288], [270, [280, 275, 272], [282, 280, 278, 276]]]]]];
const lifeGamma = [235, [262, [280, 305, [295, 310, 308]], [285, [298, 300, 298], [295, 296, [298, 296, 294]]]], [240, [275, [300, 320, [312, 322, 320]], [295, 312, [305, 318, 316]]], [255, [290, [305, 315, [312, 318, 316]], [300, 312, 310]], [265, [290, [298, 305, 302], [295, 300, [298, 300, 298]]], [275, [310, [330, 345, [340, 355, 352]], [325, [340, 348, 345], [332, 338, 336]]], [280, [295, [302, 310, 308], [300, 306, 304]], [288, [292, 298, [295, 298, 296, 295]], [290, [292, 294, [293, 293, 292]], [290, 288, 286]]]]]]]]];
const lifeBlue = [178, [190, lifeMollicutes, lifeBacilli], [185, lifeActino, [195, lifeOthers, [205, lifeEpsilon, lifeGamma]]]];
const lifeUpper = [119, lifeGreen, lifeOrange];
const lifeRoot = [0, lifeUpper, lifeBlue];
const lifeColors = new Map([[lifeGreen, '#5DB85D'], [lifeOrange, '#FFAA66'], [lifeBlue, '#5AA5DC'], [lifeUpper, '#777']]);

// ---------- I: sankey, node is [name, left, top, bottom, colour] ----------
const flowNodes = [
  ['Nuclear', 33, 150, 286, '#888888'], ['Agricultural waste', 33, 297, 318, '#1A5FB4'], ['UK land based bioenergy', 33, 328, 358, '#E00000'], ['Other waste', 33, 370, 391, '#17A0D0'], ['Biomass imports', 33, 402, 409, '#555555'], ['Marine algae', 33, 418, 421, '#999999'], ['Coal imports', 33, 431, 434, '#777700'], ['Coal reserves', 33, 445, 456, '#B8A800'], ['Solar', 33, 467, 480, '#FF7F0E'], ['Geothermal', 33, 490, 494, '#888888'], ['Gas imports', 33, 503, 511, '#8C4A3F'], ['Hydro', 33, 521, 524, '#888888'], ['Gas reserves', 33, 535, 548, '#8C4A3F'], ['Tidal', 33, 559, 561, '#333333'], ['Wave', 33, 572, 575, '#7030A0'], ['Wind', 33, 586, 634, '#8C4A3F'], ['Pumped heat', 33, 645, 687, '#1A5FB4'], ['Oil imports', 33, 699, 780, '#B8A800'], ['Oil reserves', 33, 791, 809, '#B8A800'], ['Biofuel imports', 33, 820, 826, '#D040A0'],
  ['Bio-conversion', 181, 302, 365, '#FF7F0E'], ['Coal', 181, 413, 425, '#B8A800'], ['Solar PV', 181, 436, 446, '#FF7F0E'], ['Solar Thermal', 181, 456, 462, '#A06030'], ['Ngas', 181, 511, 531, '#1A80C0'], ['Oil', 181, 690, 788, '#B8A800'],
  ['Solid', 329, 314, 386, '#9A50B8'], ['Gas', 329, 437, 470, '#8C4A3F'], ['Liquid', 329, 684, 787, '#008A00'],
  ['Thermal generation', 477, 155, 380, '#0050B0'], ['District heating', 624, 379, 393, '#0B70C0'], ['Electricity grid', 624, 410, 558, '#008A00'], ['H2 conversion', 771, 543, 551, '#444444'], ['H2', 918, 546, 552, '#444444'],
  ['Losses', 1065, 150, 291, '#E00000'], ['Over generation / exports', 1065, 303, 320, '#E00000'], ['Lighting & appliances - commercial', 1065, 331, 347, '#B8A800'], ['Lighting & appliances - homes', 1065, 358, 372, '#B8A800'], ['Industry', 1065, 384, 476, '#1A5FB4'], ['Heating and cooling - homes', 1065, 487, 547, '#FF7F0E'], ['Agriculture', 1065, 558, 561, '#555555'], ['Heating and cooling - commercial', 1065, 578, 599, '#FF7F0E'], ['Rail transport', 1065, 610, 614, '#555555'], ['Road transport', 1065, 634, 665, '#8C4A3F'], ['International shipping', 1065, 677, 698, '#E00000'], ['Domestic aviation', 1065, 708, 712, '#555588'], ['International aviation', 1065, 722, 755, '#E00000'], ['National navigation', 1065, 767, 773, '#8C4A3F']
];
const flowLinks = [
  ['Nuclear', 'Thermal generation', 135], ['Agricultural waste', 'Bio-conversion', 20], ['UK land based bioenergy', 'Bio-conversion', 30], ['Other waste', 'Bio-conversion', 9], ['Marine algae', 'Bio-conversion', 2],
  ['Bio-conversion', 'Thermal generation', 3], ['Bio-conversion', 'Solid', 42], ['Bio-conversion', 'Gas', 13], ['Bio-conversion', 'Liquid', 2], ['Other waste', 'Solid', 10], ['Biomass imports', 'Solid', 6],
  ['Coal imports', 'Coal', 3], ['Coal reserves', 'Coal', 9], ['Coal', 'Solid', 12], ['Solar', 'Solar PV', 8], ['Solar', 'Solar Thermal', 5], ['Gas imports', 'Ngas', 8], ['Gas reserves', 'Ngas', 12], ['Ngas', 'Gas', 20],
  ['Solid', 'Thermal generation', 68], ['Solid', 'District heating', 3], ['Gas', 'Thermal generation', 18],
  ['Oil imports', 'Oil', 81], ['Oil reserves', 'Oil', 17], ['Oil', 'Liquid', 98], ['Biofuel imports', 'Liquid', 5],
  ['Thermal generation', 'Losses', 133], ['Thermal generation', 'District heating', 4], ['Thermal generation', 'Electricity grid', 80],
  ['Gas', 'Electricity grid', 5], ['Solar PV', 'Electricity grid', 8], ['Geothermal', 'Electricity grid', 3], ['Hydro', 'Electricity grid', 2], ['Tidal', 'Electricity grid', 1], ['Wave', 'Electricity grid', 1], ['Wind', 'Electricity grid', 44],
  ['Electricity grid', 'Over generation / exports', 17], ['Electricity grid', 'Lighting & appliances - commercial', 16], ['Electricity grid', 'Lighting & appliances - homes', 14],
  ['District heating', 'Industry', 6], ['Electricity grid', 'Industry', 48], ['Gas', 'Industry', 6], ['Liquid', 'Industry', 20],
  ['Electricity grid', 'Heating and cooling - homes', 24], ['Solar PV', 'Heating and cooling - homes', 2], ['Solar Thermal', 'Heating and cooling - homes', 5], ['Gas', 'Heating and cooling - homes', 3], ['District heating', 'Heating and cooling - homes', 4], ['Pumped heat', 'Heating and cooling - homes', 24],
  ['Electricity grid', 'H2 conversion', 8], ['H2 conversion', 'H2', 6], ['Electricity grid', 'Agriculture', 1], ['Pumped heat', 'Heating and cooling - commercial', 14], ['Electricity grid', 'Heating and cooling - commercial', 6], ['Electricity grid', 'Rail transport', 3],
  ['Liquid', 'Road transport', 24], ['H2', 'Road transport', 4], ['Liquid', 'International shipping', 21], ['Liquid', 'Domestic aviation', 4], ['Liquid', 'International aviation', 33], ['Liquid', 'National navigation', 6], ['Electricity grid', 'Losses', 3]
];

// ---------- J: circle packing, x, y, radius in reference crop, name, value ----------
const packGray = [[368, 50, 26, 'Indent Tree Layout', '3,174'], [428, 84, 38, 'Circle Layout', '9,317'], [546, 60, 16, 'Operator Switch', '2,581'], [607, 88, 44, 'Node Link Tree Layout', '12,870'], [670, 85, 16, 'Drill Operator', '1,883'], [338, 116, 38, 'Tree Builder', '9,930'], [280, 125, 19, 'Operator', '2,490'], [397, 128, 14, 'Filter'], [435, 146, 19, 'Click Control', '3,824'], [482, 130, 18, 'Grid Encoder', '1,690'], [527, 105, 20, 'Encoder', '4,060'], [516, 150, 18, 'Data Event', '2,313'], [562, 137, 20, 'Color Encoder', '3,179'], [611, 165, 25, 'Tree', '7,147'], [683, 145, 38, 'Labeler', '9,956'], [235, 155, 19, 'Pie Layout', '2,728'], [176, 182, 43, 'Circle Packing Layout', '12,003'], [384, 175, 31, 'Cartesian Axes', '6,703'], [226, 215, 14, 'Event'], [190, 245, 20, 'Graph Distance Filter', '3,165'], [232, 255, 18, 'Shape Encoder', '1,690'], [657, 222, 33, 'Selection Control', '7,862'], [600, 225, 18, 'Stats'], [749, 215, 54, 'Node Sprite', '19,382'], [820, 252, 20, 'Stacked Area Labeler', '3,202'], [90, 285, 31, 'Axis Layout', '6,725'], [147, 280, 22, 'Radial Labeler', '3,899'], [209, 295, 26, 'Control List', '4,665'], [253, 298, 12, 'Axes'], [732, 297, 27, 'Hover Control', '4,896'], [794, 312, 39, 'Legend Range', '10,530'], [870, 335, 37, 'Stacked Area Layout', '9,121'], [122, 340, 26, 'Fisheye Tree Filter', '5,219'], [175, 378, 17, 'Labels'], [113, 395, 22, 'Property Encoder', '4,138'], [150, 403, 9], [63, 410, 24, 'Operator Sequence', '4,190'], [862, 395, 22, 'Fisheye Distortion', '3,444'], [851, 478, 55, 'Legend', '20,859'], [108, 462, 39, 'Data Sprite', '10,349'], [910, 553, 34, 'Layout', '7,881'], [90, 528, 22, 'Indent Edge Router', '3,132'], [68, 580, 24, 'Icicle Tree Layout', '4,864'], [125, 583, 23, 'Bifocal Distortion', '4,461'], [120, 642, 30, 'Distortion', '6,314'], [858, 597, 41, 'Scale Binding', '11,275'], [770, 666, 55, 'Data', '20,544'], [200, 695, 61, 'Axis', '24,593'], [710, 730, 26, 'Edge Renderer', '5,569'], [750, 735, 12, 'Rend'], [658, 712, 16, 'Drag Control', '2,649'], [248, 800, 54, 'Data List', '19,788'], [326, 772, 27, 'Pan Zoom Control', '5,222'], [691, 781, 20, 'Legend Item', '4,614'], [769, 795, 50, 'Visualization', '16,540'], [410, 792, 34, 'Tooltip Control', '8,435'], [351, 815, 18, 'Edge Sprite', '3,301'], [384, 845, 19, 'Visibility Filter', '3,509'], [435, 848, 21, 'Visibility Filter', '3,509'], [318, 867, 35, 'Force Directed Layout', '8,411'], [412, 905, 37, 'Tree Map Layout', '9,191'], [536, 895, 42, 'Radial Tree Layout', '12,348'], [474, 930, 26, 'Operator List', '5,248'], [724, 685, 12], [252, 760, 8], [752, 752, 8], [724, 292, 8]];
const packBrown = [[296, 200, 51, 'Maths', '17,705'], [545, 202, 38, 'Colors', '10,001'], [478, 182, 28, 'Property', '5,559'], [425, 212, 20, 'Dense Matrix', '3,165'], [366, 225, 19, 'I Matrix', '2,815'], [272, 265, 17, 'Tuple Set', '1,750'], [183, 440, 35, 'Arrays', '8,258'], [148, 525, 31, 'Stats', '6,557'], [673, 290, 22, 'Sparse Matrix', '3,366'], [729, 362, 35, 'Dates', '8,217'], [798, 392, 37, 'Fibonacci Heap', '9,354'], [757, 462, 36, 'Displays', '12,555'], [778, 545, 41, 'Geometry', '10,993'], [608, 733, 32, 'Sort', '6,887'], [303, 712, 30, 'Color Palette', '6,367'], [510, 800, 53, 'Shapes', '19,118'], [613, 826, 57, 'Strings', '22,026'], [392, 740, 14, 'Tabs'], [454, 745, 17, 'Filter', '2,324'], [703, 638, 14, 'Scale'], [207, 398, 10], [250, 625, 11], [620, 685, 11], [568, 710, 7], [662, 672, 8], [420, 738, 9], [540, 690, 8], [298, 555, 6], [252, 580, 8]];
const packPurple = [[336, 305, 27, 'Expression', '5,130'], [500, 252, 25, 'Date Util', '4,141'], [577, 290, 23, 'Aggregate Expression', '1,616'], [626, 300, 20, 'Fn', '3,240'], [672, 390, 24, 'Match', '3,748'], [254, 531, 28, 'Comparison', '5,103'], [202, 585, 45, 'Query', '13,896'], [285, 615, 20, 'If', '2,732'], [590, 658, 23, 'Arithmetic', '3,891'], [361, 708, 23, 'Composite Expression', '3,677'], [539, 722, 24, 'String Util', '4,130'], [662, 510, 17, 'Binary Expression', '2,893'], [401, 240, 10], [293, 294, 10], [575, 250, 12], [238, 390, 9], [240, 422, 8], [222, 445, 8], [243, 465, 8], [248, 490, 8], [272, 567, 7], [270, 592, 8], [302, 590, 7], [541, 678, 11], [495, 690, 9], [472, 695, 8], [477, 718, 9], [494, 713, 7], [510, 705, 9], [335, 672, 8], [380, 722, 6], [425, 322, 9], [422, 350, 7], [530, 340, 8], [675, 352, 6], [668, 425, 9], [690, 425, 8], [645, 420, 7], [688, 445, 8], [695, 465, 8], [668, 450, 8], [640, 445, 7], [650, 490, 8], [682, 490, 7], [670, 540, 9], [690, 517, 7], [640, 530, 6], [600, 612, 8], [570, 635, 7], [527, 680, 7], [557, 677, 6], [237, 643, 8], [600, 708, 6]];
const packOrange = [[383, 344, 30, 'Tween', '6,006'], [352, 397, 23, 'Parallel', '5,176'], [481, 330, 28, 'Sequence', '5,534'], [320, 497, 35, 'Interpolator', '8,746'], [580, 450, 50, 'Easing', '17,010'], [618, 584, 53, 'Transitioner', '19,975'], [429, 617, 28, 'Scheduler', '5,593'], [492, 642, 36, 'Transition', '9,201'], [511, 576, 28, 'Function Sequence', '5,842'], [579, 519, 16, 'Tuple', '1,983'], [404, 400, 15, 'Color Interpolator', '2,047'], [430, 572, 15, 'Array Interpolator', '1,983'], [395, 578, 17, 'Point Interpolator', '1,675'], [463, 580, 14, 'Rectangle', '2,042'], [540, 385, 15, 'Pause', '449'], [438, 347, 12], [425, 375, 8], [408, 612, 7], [580, 545, 7], [545, 560, 6], [458, 600, 8], [520, 362, 6]];
const packBlue = [[387, 453, 32, 'Aspect Ratio Banker', '7,074'], [398, 530, 34, 'Max Flow Min Cut', '7,840'], [474, 537, 33, 'Hierarchical Cluster', '6,714'], [532, 524, 29, 'Shortest Paths', '5,914'], [461, 380, 22, 'Spanning Tree', '3,416'], [500, 420, 29, 'Link Distance', '5,731'], [440, 424, 21, 'Betweenness Centrality', '3,534'], [440, 475, 22, 'Agglomerative Cluster', '3,938'], [493, 477, 23, 'Community Structure', '3,812'], [466, 448, 10, 'Merge']];
const packYellow = [[281, 350, 38, 'Simulation', '9,983'], [424, 690, 39, 'N Body Force', '10,498'], [273, 482, 16, 'Spring', '2,213'], [600, 340, 20, 'Particle', '2,822'], [387, 295, 15, 'Spring Force', '1,681'], [336, 354, 12, 'Force'], [640, 475, 10, 'Gravity'], [388, 632, 7]];
const packTeal = [[438, 276, 36, 'Dirty Sprite', '8,833'], [343, 645, 42, 'Text Sprite', '10,066'], [620, 383, 20, 'Rect Sprite', '3,623'], [549, 645, 12, 'Line Sprite', '1,732']];
const packRed = [[293, 425, 38, 'GraphML Converter', '9,800'], [305, 555, 22, 'Data Util', '3,322'], [348, 577, 23, 'Delimited Text Converter', '4,294'], [555, 339, 19, 'Data Source', '3,331'], [623, 505, 18, 'JSON Converter', '2,220'], [547, 608, 14, 'Data Set', '1,501'], [578, 377, 17, 'Data Schema', '2,165'], [522, 343, 9], [424, 325, 9]];
const packPink = [[213, 350, 23, 'Scale', '4,268'], [205, 503, 26, 'Quantitative Scale', '4,839'], [279, 660, 22, 'Log Scale', '3,151'], [653, 660, 28, 'Time Scale', '5,833'], [713, 570, 24, 'Ordinal Scale', '3,770'], [613, 260, 17, 'Quantile Scale', '2,435'], [340, 258, 15, 'Scale Type'], [680, 330, 14, 'Scale Map', '2,203'], [690, 606, 14, 'Root Scale'], [711, 528, 13, 'Linear']];
const packGreen = [[526, 296, 25, 'Pure Vis', '4,110']];

// ---------- K: hive plot ----------
const hiveAxes = [[338, 52, 470, 412], [663, 52, 533, 412], [970, 580, 592, 515], [805, 862, 560, 570], [32, 580, 410, 515], [197, 862, 440, 570]];
const hiveOrange = [[.03, .05], [.03, .2], [.05, .22], [.06, .25], [.08, .3], [.1, .28], [.12, .33], [.15, .35], [.12, .38], [.18, .4], [.2, .42], [.22, .3], [.25, .5], [.28, .55], [.3, .48], [.32, .6], [.35, .58], [.36, .65], [.38, .7], [.4, .62], [.42, .75], [.45, .72], [.48, .8], [.5, .78], [.52, .82], [.55, .85], [.58, .88], [.6, .8], [.62, .9], [.65, .92], [.68, .87], [.7, .93], [.72, .95], [.75, .9], [.78, .96], [.8, .97], [.85, .96], [.9, .98], [.05, .4], [.1, .5], [.15, .6], [.2, .65], [.25, .68], [.3, .75], [.4, .85], [.45, .9], [.35, .82], [.22, .55], [.18, .5], [.08, .45], [.02, .28], [.04, .33], [.06, .36], [.07, .4], [.1, .26], [.14, .3], [.16, .24], [.19, .33], [.24, .36], [.27, .43], [.33, .52], [.37, .53], [.44, .55], [.5, .57], [.56, .6]];
const hiveGreen = [[.08, .01], [.1, .03], [.12, .02], [.14, .05], [.15, .08], [.18, .04], [.2, .1], [.22, .12], [.24, .06], [.26, .14], [.28, .16], [.3, .02], [.32, .18], [.34, .2], [.35, .08], [.38, .22], [.4, .24], [.42, .1], [.44, .28], [.45, .3], [.48, .12], [.5, .32], [.52, .15], [.54, .34], [.55, .36], [.58, .18], [.6, .38], [.62, .22], [.64, .42], [.65, .26], [.68, .46], [.7, .3], [.72, .5], [.74, .34], [.76, .54], [.78, .38], [.8, .58], [.82, .42], [.84, .62], [.86, .46], [.88, .66], [.9, .5], [.92, .7], [.94, .55], [.95, .74], [.96, .6], [.97, .78], [.98, .65], [.99, .85], [.99, .02], [.97, .08], [.95, .12], [.93, .16], [.9, .06], [.88, .24], [.86, .28], [.84, .32], [.82, .36], [.8, .4], [.78, .44], [.76, .28], [.74, .22], [.72, .2], [.7, .16], [.92, .4], [.94, .44], [.96, .5], [.98, .72], [.99, .92]];
const hiveBlue = [[.01, .18], [.03, .2], [.05, .25], [.08, .12], [.1, .3], [.13, .35], [.16, .22], [.2, .4], [.22, .28], [.25, .45], [.28, .5], [.3, .34], [.33, .56], [.36, .62], [.4, .38], [.43, .68], [.46, .74], [.5, .44], [.53, .8], [.56, .85], [.6, .5], [.64, .9], [.68, .56], [.72, .95], [.76, .62], [.8, .98], [.84, .68], [.88, .99], [.92, .76], [.96, .99], [.99, .97], [.99, .72], [.97, .6], [.94, .48], [.9, .36], [.86, .26], [.82, .16], [.78, .1], [.7, .78], [.62, .58], [.55, .66], [.48, .3], [.38, .24], [.98, .85], [.95, .9]];
// start x, y, end x, y, bend x, y
const hiveArcs = [[352, 92, 187, 548, 170, 260], [385, 205, 52, 578, 190, 285], [375, 190, 280, 553, 265, 360], [388, 212, 295, 545, 270, 370], [392, 225, 312, 540, 295, 380], [395, 235, 385, 515, 290, 420], [440, 350, 395, 518, 380, 425], [628, 170, 755, 535, 760, 330], [625, 180, 660, 525, 690, 345], [575, 290, 597, 515, 625, 400], [418, 618, 565, 590, 490, 650], [390, 640, 630, 660, 510, 680], [335, 712, 700, 745, 510, 770], [385, 650, 690, 715, 540, 740], [197, 862, 740, 795, 470, 930]];

// ---------- L: PCA ----------
const pcaGreen = [[-1.85, 2.34], [-2.33, 1.12], [-2.62, .97], [-2.42, .91], [-2.21, .74], [-2.06, .72], [-2.08, .67], [-1.94, .63], [-2.29, .6], [-2.54, .48], [-2.17, .48], [-2.13, .51], [-2.1, .47], [-2.37, .39], [-2.34, .36], [-2.25, .34], [-2.19, .2], [-2.44, -.04], [-2.19, -.01], [-1.81, -.08], [-2.31, -.12], [-2.22, -.12], [-2.04, -.24], [-2.24, -.26], [-2.22, -.3], [-2.18, -.28], [-2.15, -.28], [-2.25, -.31], [-2.2, -.32], [-2.76, -.45], [-2.27, -.44], [-2.24, -.47], [-2.17, -.48], [-2.16, -.52], [-1.95, -.45], [-1.91, -.41], [-1.82, -.43], [-2.51, -.59], [-2.38, -.64], [-2.04, -.66], [-2.2, -.92], [-2.22, -.99], [-2.16, -1.04], [-2.12, -1.13], [-2.37, -1.11], [-2.34, -1.12], [-2.19, -1.47], [-2.06, -1.48], [-1.89, -1.39], [-2.61, -1.79], [-2.18, -1.86], [-2.43, -2.14], [-2.25, -2.67]];
const pcaOrange = [[-.1, 2.67], [-.36, 2.02], [-.48, 1.87], [-.44, 1.55], [.03, 1.58], [.14, 1.57], [.41, 1.77], [.56, 1.78], [.17, 1.31], [.29, 1.34], [1.04, 1.39], [1.23, 1.64], [.28, 1.15], [.34, 1.0], [-.03, 1.07], [.01, 1.04], [1.23, .95], [.17, .81], [.25, .79], [.29, .85], [.26, .61], [.39, .6], [.47, .57], [.54, .56], [1.06, .66], [-.02, .45], [.48, .43], [.64, .44], [.23, .4], [.23, .3], [.07, .23], [.09, .2], [.35, .2], [.44, .1], [.58, .17], [.66, .24], [.72, .21], [.75, .19], [.71, .08], [.63, -.01], [1.08, .23], [1.26, .09], [.87, -.23], [.74, -.38], [.87, -.5], [1.05, -.51], [1.36, -.33], [1.24, -.6], [.73, -.58], [.75, -.76], [.43, -.83], [1.11, -.84]];
const pcaPurple = [[1.26, 1.71], [1.22, 1.63], [.37, 1.56], [1.26, 1.17], [1.57, .91], [1.2, .82], [1.16, .7], [2.01, .72], [.99, .58], [1.33, .49], [1.47, .44], [1.6, .43], [1.18, .32], [1.12, .3], [1.14, .3], [1.79, .2], [1.86, .19], [1.45, .04], [.97, .03], [.93, -.02], [1.03, -.05], [3.31, -.02], [1.47, -.24], [1.52, -.27], [1.87, -.28], [1.88, -.35], [1.89, -.41], [2.44, -.26], [2.31, -.41], [2.9, -.41], [1.34, -.43], [2.2, -.55], [1.86, -.56], [2.02, -.6], [1.36, -.68], [1.59, -.67], [1.85, -.67], [1.9, -.68], [2.75, -.79], [2.8, -.85], [1.85, -.86], [2.04, -.85], [2.03, -.91], [1.38, -1.01], [1.69, -1.0], [1.96, -1.0], [2.01, -1.04], [1.58, -1.07], [2.27, -1.92], [2.43, -2.54], [2.31, -2.62]];
const pcaCentroids = [[.51, .59], [1.73, -.26]];

const panelTags = [['A', 28, 15], ['B', 325, 15], ['C', 877, 15], ['D', 1087, 15], ['E', 29, 372], ['F', 374, 372], ['G', 685, 372], ['H', 1022, 372], ['I', 29, 712], ['J', 372, 712], ['K', 686, 712], ['L', 1023, 712]];

// ---------- helpers ----------
Chart.defaults.font.family = '"Liberation Sans", Arial, sans-serif';
Chart.defaults.plugins.legend.display = false;
Chart.defaults.plugins.tooltip.enabled = false;
Chart.defaults.animation = false;
Chart.defaults.layout.autoPadding = false;

function addChart(left, top, width, height, config) {
  const cv = document.createElement('canvas');
  cv.width = width;
  cv.height = height;
  cv.style.left = left + 'px';
  cv.style.top = top + 'px';
  document.body.appendChild(cv);
  config.options = Object.assign({ responsive: false, events: [] }, config.options);
  return new Chart(cv, config);
}
// hidden axes that span a crop of the reference, so values read there go straight in
function cropScales(x0, x1, y0, y1) {
  return {
    x: { type: 'linear', min: x0, max: x1, display: false },
    y: { type: 'linear', min: y0, max: y1, reverse: true, display: false }
  };
}
const toPoints = arr => arr.map(p => ({ x: p[0], y: p[1] }));
function linesToPoints(lines) {
  const out = [];
  lines.forEach(l => {
    for (let i = 0; i < l.length; i += 2) out.push({ x: l[i], y: l[i + 1] });
    out.push({ x: null, y: null });
  });
  return out;
}
function lineSet(lines, color, width) {
  return { data: linesToPoints(lines), showLine: true, borderColor: color, borderWidth: width, pointRadius: 0, spanGaps: false };
}
function dotSet(arr, color, r) {
  return { data: toPoints(arr), backgroundColor: color, borderWidth: 0, pointRadius: r };
}
function text(ctx, s, x, y, font, color, align, rot) {
  ctx.save();
  ctx.translate(x, y);
  if (rot) ctx.rotate(rot);
  ctx.font = font;
  ctx.fillStyle = color;
  ctx.textAlign = align || 'center';
  ctx.textBaseline = 'middle';
  ctx.fillText(s, 0, 0);
  ctx.restore();
}
const FONT = '"Liberation Sans", Arial, sans-serif';

// ---------- A ----------
const chordPlugin = {
  id: 'chord',
  afterDatasetsDraw(c) {
    const ctx = c.ctx, arcs = c.getDatasetMeta(0).data, cx = arcs[0].x, cy = arcs[0].y;
    const inner = arcs[0].innerRadius, outer = arcs[0].outerRadius;
    const angle = (set, v) => arcs[set].startAngle + v / chordValues[set] * (arcs[set].endAngle - arcs[set].startAngle);
    chordFlows.forEach(f => {
      const a0 = angle(f[0], f[1]), a1 = angle(f[0], f[2]), b0 = angle(f[3], f[4]), b1 = angle(f[3], f[5]);
      ctx.beginPath();
      ctx.arc(cx, cy, inner, a0, a1);
      ctx.quadraticCurveTo(cx, cy, cx + inner * Math.cos(b0), cy + inner * Math.sin(b0));
      if (f[5] > f[4]) ctx.arc(cx, cy, inner, b0, b1);
      ctx.quadraticCurveTo(cx, cy, cx + inner * Math.cos(a0), cy + inner * Math.sin(a0));
      ctx.fillStyle = f[6];
      ctx.fill();
    });
    chordSets.forEach((name, i) => {
      if (!name) return;
      ctx.strokeStyle = '#777';
      ctx.lineWidth = .5;
      for (let v = 0; v <= chordValues[i]; v += 1000) {
        const a = angle(i, v), major = v % 5000 === 0;
        ctx.beginPath();
        ctx.moveTo(cx + (outer + 1) * Math.cos(a), cy + (outer + 1) * Math.sin(a));
        ctx.lineTo(cx + (outer + (major ? 4.5 : 3)) * Math.cos(a), cy + (outer + (major ? 4.5 : 3)) * Math.sin(a));
        ctx.stroke();
        if (major) {
          const flip = Math.cos(a) < 0;
          text(ctx, String(v), cx + (outer + 15) * Math.cos(a), cy + (outer + 15) * Math.sin(a), '5px ' + FONT, '#666', 'center', flip ? a + Math.PI : a);
        }
      }
      const mid = (arcs[i].startAngle + arcs[i].endAngle) / 2;
      const flip = Math.cos(mid) < 0 || name === 'Air';
      const radii = { Aquatic: 148, Terrestrial: 150, 'Host-Associated': 162, Engineered: 154, Air: 139 };
      text(ctx, name, cx + radii[name] * Math.cos(mid), cy + radii[name] * Math.sin(mid), '7.5px ' + FONT, '#444', 'center', flip ? mid + Math.PI : mid);
    });
  }
};
addChart(0, 0, 364, 362, {
  type: 'doughnut',
  data: { labels: chordSets, datasets: [{ data: chordValues, backgroundColor: chordColors, borderWidth: 0 }] },
  options: { rotation: 2, radius: 113, cutout: '89.4%' },
  plugins: [chordPlugin]
});

// ---------- B ----------
const barLabelPlugin = {
  id: 'barLabels',
  afterDatasetsDraw(c) {
    c.getDatasetMeta(0).data.forEach((bar, i) => {
      text(c.ctx, intersectionValues[i].toLocaleString('en-US'), bar.x, bar.y - 4.5, '7px ' + FONT, '#333');
    });
  }
};
addChart(393, 20, 455, 190, {
  type: 'bar',
  data: { labels: intersectionLabels, datasets: [{ data: intersectionValues, backgroundColor: intersectionColors, barPercentage: .78, categoryPercentage: 1 }] },
  options: {
    layout: { padding: { top: 16, right: 2.7 } },
    scales: {
      x: { grid: { display: false }, ticks: { display: false }, border: { color: '#777', width: 1.5 }, afterFit(s) { s.height = 1; } },
      y: {
        min: 0, max: 69401,
        afterBuildTicks(s) { s.ticks = [0, 10000, 20000, 30000, 40000, 50000, 60000, 69401].map(v => ({ value: v })); },
        afterFit(s) { s.width = 50.5; },
        grid: { drawOnChartArea: false, tickLength: 4, color: '#777' }, border: { color: '#777' },
        ticks: { font: { size: 7 }, color: '#333', padding: 2, callback: v => v.toLocaleString('en-US') },
        title: { display: true, text: 'Intersection Size', font: { size: 12.5 }, color: '#333', padding: 0 }
      }
    }
  },
  plugins: [barLabelPlugin]
});
const sizeLabelPlugin = {
  id: 'sizeLabels',
  afterDatasetsDraw(c) {
    c.getDatasetMeta(0).data.forEach((bar, i) => {
      text(c.ctx, setSizes[i].toLocaleString('en-US'), bar.x - 2, bar.y, '7px ' + FONT, '#333', 'right');
    });
  }
};
addChart(260, 212.6, 117, 140, {
  type: 'bar',
  data: { labels: setNames, datasets: [{ data: setSizes, backgroundColor: setColors.map((col, i) => i === 0 ? '#8B5A00' : col), barPercentage: .8, categoryPercentage: 1 }] },
  options: {
    indexAxis: 'y',
    layout: { padding: { right: 6.3 } },
    scales: {
      y: { display: false },
      x: {
        reverse: true, min: 0, max: 95840,
        afterBuildTicks(s) { s.ticks = [0, 20000, 40000, 60000].map(v => ({ value: v })); },
        afterFit(s) { s.height = 25; },
        grid: { drawOnChartArea: false, tickLength: 3, color: '#555' }, border: { color: '#555' },
        ticks: { font: { size: 6.5 }, color: '#333', padding: 1, maxRotation: 0, callback: v => v.toLocaleString('en-US') },
        title: { display: true, text: 'Set Size', font: { size: 12.5 }, color: '#333', padding: 0 }
      }
    }
  },
  plugins: [sizeLabelPlugin]
});
const matrixPlugin = {
  id: 'matrix',
  beforeDatasetsDraw(c) {
    const { ctx, chartArea: a, scales: { y } } = c;
    ctx.fillStyle = '#F1F1F1';
    [1, 3].forEach(row => {
      ctx.fillRect(a.left, y.getPixelForValue(row - .4), a.width, y.getPixelForValue(row + .4) - y.getPixelForValue(row - .4));
    });
    ctx.save();
    ctx.beginPath();
    ctx.rect(a.left, a.top, 68, a.height);
    ctx.clip();
    setNames.forEach((name, row) => text(ctx, name, a.left + 35, y.getPixelForValue(row), '12px ' + FONT, '#333'));
    ctx.restore();
  }
};
const matrixGrey = [], matrixOn = [], matrixOnColors = [], matrixLinks = [];
memberships.forEach((rows, col) => {
  setNames.forEach((n, row) => {
    if (rows.includes(row)) { matrixOn.push([col, row]); matrixOnColors.push(setColors[row]); } else matrixGrey.push([col, row]);
  });
  if (rows.length > 1) matrixLinks.push([col, rows[0], col, rows[rows.length - 1]]);
});
addChart(371, 213, 476, 114, {
  type: 'scatter',
  data: { datasets: [
    { data: toPoints(matrixOn), backgroundColor: matrixOnColors, borderWidth: 0, pointRadius: 4.2, order: 1 },
    lineSet(matrixLinks, '#000', 2.2),
    Object.assign(dotSet(matrixGrey, '#D2D2D2', 4.2), { order: 3 })
  ] },
  options: { scales: { x: { type: 'linear', min: -5.01, max: 24.61, display: false }, y: { type: 'linear', min: -.48, max: 4.53, reverse: true, display: false } } },
  plugins: [matrixPlugin]
});
const vennPlugin = {
  id: 'venn',
  beforeDatasetsDraw(c) {
    const { ctx, scales: { x, y }, chartArea: a } = c;
    ctx.strokeStyle = '#444';
    ctx.lineWidth = 1;
    ctx.strokeRect(a.left + .5, a.top + .5, a.width - 1, a.height - 1);
    vennEllipses.forEach(e => {
      ctx.beginPath();
      ctx.ellipse(x.getPixelForValue(e[0]), y.getPixelForValue(e[1]), e[2], e[3], e[4] * Math.PI / 180, 0, 2 * Math.PI);
      ctx.fillStyle = e[5];
      ctx.fill();
    });
    vennCounts.forEach(v => text(ctx, v[0], x.getPixelForValue(v[1]), y.getPixelForValue(v[2]), '4.5px ' + FONT, '#222'));
    vennLabels.forEach(v => text(ctx, v[0], x.getPixelForValue(v[1]), y.getPixelForValue(v[2]), '8px ' + FONT, '#222'));
  }
};
addChart(615, 13, 233, 185, {
  type: 'scatter',
  data: { datasets: [] },
  options: { scales: cropScales(615, 848, 13, 198) },
  plugins: [vennPlugin]
});

// ---------- C ----------
function heatColor(v) {
  if (v >= 0) { const g = Math.round(255 * (1 - Math.min(v, 1))); return `rgb(255,${g},${g})`; }
  if (v >= -1) { const g = Math.round(255 * (1 + v)); return `rgb(${g},${g},255)`; }
  return `rgb(0,${Math.round(40 + (v + 1) * 100)},${Math.round(255 + (v + 1) * 250)})`;
}
addChart(921, 76, 135, 219, {
  type: 'bar',
  data: {
    labels: heatColumns,
    datasets: heatRows.slice().reverse().map(row => ({ data: row.map(() => 1), backgroundColor: row.map(heatColor), barPercentage: 1, categoryPercentage: 1, borderWidth: 0 }))
  },
  options: { scales: { x: { stacked: true, display: false }, y: { stacked: true, display: false, min: 0, max: 14 } } }
});
addChart(870, 0, 210, 300, {
  type: 'scatter',
  data: { datasets: [
    lineSet(heatDendro, '#666', .9),
    lineSet([[152, 209, 354, 209]], '#00A5CC', 8),
    lineSet([[354, 209, 558, 209]], '#FF8C7D', 8)
  ] },
  options: { scales: cropScales(0, 630, 0, 900) }
});

// ---------- D ----------
addChart(1084, 40, 272, 285, {
  type: 'bar',
  data: { labels: clusterLabels, datasets: [
    { data: clusterTeal, backgroundColor: '#2A89A5', borderColor: '#BCD9E2', borderWidth: .6 },
    { data: clusterYellow, backgroundColor: '#FEC845', borderColor: '#F3E4BF', borderWidth: .6 },
    { data: clusterPurple, backgroundColor: '#7A6376', borderColor: '#D8CCDA', borderWidth: .6 }
  ].map(d => Object.assign(d, { barPercentage: .854, categoryPercentage: 1 })) },
  options: {
    layout: { padding: { top: 7 } },
    scales: {
      x: { stacked: true, grid: { display: false }, border: { display: false }, ticks: { font: { size: 18 }, color: '#222', padding: 4, maxRotation: 0 }, afterFit(s) { s.height = 32.3; } },
      y: {
        stacked: true, min: 0, max: 3.83, border: { display: false },
        grid: { color: '#F2F2F2', lineWidth: 1.2, drawTicks: false },
        ticks: { display: false },
        afterBuildTicks(s) { s.ticks = [.84, 1.84, 2.84, 3.83].map(v => ({ value: v })); },
        afterFit(s) { s.width = 0; }
      }
    }
  }
});

// ---------- E ----------
addChart(0, 370, 350, 340, {
  type: 'scatter',
  data: { datasets: [
    dotSet(netRed, '#E01010', 1.7), dotSet(netGreen, '#0A9A1A', 1.8), dotSet(netPink, '#E0106E', 2.2), dotSet(netLightBlue, '#8DB8D8', 1.5),
    dotSet(netBlueBig, '#0F5CA8', 2.7), dotSet(netOrangeBig, '#F5BE8A', 3), dotSet(netBlueSmall, '#1560AE', 1.3), dotSet(netOrangeSmall, '#F2BC88', 1.3),
    lineSet(netEdges, 'rgba(170,170,170,.55)', .7)
  ] },
  options: { scales: cropScales(0, 1050, 0, 1020) }
});

// ---------- F ----------
function ringData(ring) {
  let prev = 0;
  return ring.map(s => { const d = s[0] - prev; prev = s[0]; return d; });
}
const burstRings = [burstRing4, burstRing3, burstRing2, burstRing1];
const burstPlugin = {
  id: 'burstLabels',
  afterDatasetsDraw(c) {
    burstRings.forEach((ring, i) => {
      c.getDatasetMeta(i).data.forEach((arc, j) => {
        if (!ring[j][1]) return;
        const mid = (arc.startAngle + arc.endAngle) / 2, r = (arc.innerRadius + arc.outerRadius) / 2;
        const flip = Math.cos(mid) < 0;
        text(c.ctx, ring[j][1], arc.x + r * Math.cos(mid), arc.y + r * Math.sin(mid), '4.4px ' + FONT, '#2a2030', 'center', flip ? mid + Math.PI : mid);
      });
    });
  }
};
addChart(330, 375, 374, 374, {
  type: 'doughnut',
  data: { datasets: burstRings.map(ring => ({
    data: ringData(ring),
    backgroundColor: ring.map(s => s[2] || 'rgba(0,0,0,0)'),
    borderColor: ring.map(s => s[2] ? '#fff' : 'rgba(0,0,0,0)'),
    borderWidth: .7
  })) },
  options: { radius: 187, cutout: '19.8%' },
  plugins: [burstPlugin]
});

// ---------- G ----------
function layoutTreemap(node, x0, x1, y0, y1, depth, color, out, frames) {
  const fill = treeColors.get(node) || color;
  if (typeof node[1] !== 'object') { out.push({ x0, x1, y0, y1, fill, name: node[1], value: node[2] }); return; }
  if (depth > 0 && depth < 6) frames.push({ x0, x1, y0, y1 });
  const kids = node.slice(1), total = kids.reduce((s, k) => s + k[0], 0);
  let pos = 0;
  kids.forEach(k => {
    const a = pos / total, b = (pos + k[0]) / total;
    pos += k[0];
    if (depth % 2 === 0) layoutTreemap(k, x0, x1, y0 + (y1 - y0) * a, y0 + (y1 - y0) * b, depth + 1, fill, out, frames);
    else layoutTreemap(k, x0 + (x1 - x0) * a, x0 + (x1 - x0) * b, y0, y1, depth + 1, fill, out, frames);
  });
}
const treeCells = [], treeFrames = [];
layoutTreemap(treeRoot, 122, 983, 68, 928, 0, '#ddd', treeCells, treeFrames);
const treePlugin = {
  id: 'treemap',
  beforeDatasetsDraw(c) {
    const { ctx, scales: { x, y } } = c;
    treeCells.forEach(t => {
      const l = x.getPixelForValue(t.x0), r = x.getPixelForValue(t.x1), a = y.getPixelForValue(t.y0), b = y.getPixelForValue(t.y1);
      ctx.fillStyle = t.fill;
      ctx.fillRect(l, a, r - l, b - a);
      ctx.strokeStyle = 'rgba(255,255,255,.8)';
      ctx.lineWidth = .5;
      ctx.strokeRect(l, a, r - l, b - a);
      if (!t.name || r - l < 8 || b - a < 6) return;
      ctx.font = '3px ' + FONT;
      ctx.fillStyle = 'rgba(70,60,55,.85)';
      ctx.textAlign = 'left';
      ctx.textBaseline = 'top';
      const words = String(t.name).split(' ').concat(t.value ? [t.value] : []);
      words.slice(0, Math.floor((b - a - 1) / 3.3)).forEach((w, i) => ctx.fillText(w, l + 1, a + 1 + i * 3.3));
    });
    ctx.strokeStyle = '#fff';
    ctx.lineWidth = .9;
    treeFrames.forEach(f => {
      const l = x.getPixelForValue(f.x0), r = x.getPixelForValue(f.x1), a = y.getPixelForValue(f.y0), b = y.getPixelForValue(f.y1);
      ctx.strokeRect(l, a, r - l, b - a);
    });
    const bx = x.getPixelForValue(318), by = y.getPixelForValue(108);
    ctx.fillStyle = 'rgba(245,245,245,.95)';
    ctx.strokeStyle = '#ccc';
    ctx.lineWidth = .5;
    ctx.fillRect(bx, by, 89, 12.5);
    ctx.strokeRect(bx, by, 89, 12.5);
    text(ctx, 'flare.vis.operator.layout.StackedAreaLayout', bx + 2, by + 4, '4.6px ' + FONT, '#333', 'left');
    text(ctx, '9,121', bx + 2, by + 9, '4.6px ' + FONT, '#333', 'left');
  }
};
addChart(720, 392, 289, 288, {
  type: 'scatter',
  data: { datasets: [] },
  options: { scales: cropScales(120, 987, 66, 930) },
  plugins: [treePlugin]
});

// ---------- H ----------
const lifeStep = 360 / lifeNames.length, lifeStart = 4;
const lifeSegs = [], lifeLeaves = [];
function layoutLife(node, color) {
  const col = lifeColors.get(node) || color;
  if (typeof node === 'number') {
    const ang = lifeStart + lifeLeaves.length * lifeStep;
    lifeLeaves.push({ ang, r: node });
    return { ang, r: node, color: col };
  }
  const kids = node.slice(1).map(k => layoutLife(k, col));
  const ang = (kids[0].ang + kids[kids.length - 1].ang) / 2;
  kids.forEach(k => lifeSegs.push({ r: node[0], from: ang, to: k.ang, outer: k.r, color: k.color }));
  return { ang, r: node[0], color: col };
}
layoutLife(lifeRoot, '#5AA5DC');
const lifePlugin = {
  id: 'lifeTree',
  afterDatasetsDraw(c) {
    const { ctx, scales: { x, y } } = c;
    const cx = x.getPixelForValue(548), cy = y.getPixelForValue(533), unit = x.getPixelForValue(1) - x.getPixelForValue(0);
    const rad = d => (d - 90) * Math.PI / 180;
    ctx.lineWidth = .45;
    ctx.strokeStyle = '#D8D8D8';
    lifeLeaves.forEach((l, i) => {
      const a = rad(l.ang);
      ctx.beginPath();
      ctx.moveTo(cx + l.r * unit * Math.cos(a), cy + l.r * unit * Math.sin(a));
      ctx.lineTo(cx + 357 * unit * Math.cos(a), cy + 357 * unit * Math.sin(a));
      ctx.stroke();
      const flip = Math.cos(a) < 0;
      text(ctx, lifeNames[i], cx + 360 * unit * Math.cos(a), cy + 360 * unit * Math.sin(a), '4.2px ' + FONT, '#333', flip ? 'right' : 'left', flip ? a + Math.PI : a);
    });
    ctx.lineWidth = .8;
    lifeSegs.forEach(s => {
      const a0 = rad(s.from), a1 = rad(s.to), r = s.r * unit;
      ctx.strokeStyle = s.color;
      ctx.beginPath();
      if (r > 0) ctx.arc(cx, cy, r, a0, a1, a1 < a0);
      else ctx.moveTo(cx, cy);
      ctx.lineTo(cx + s.outer * unit * Math.cos(a1), cy + s.outer * unit * Math.sin(a1));
      ctx.stroke();
    });
  }
};
addChart(1020, 370, 352, 350, {
  type: 'scatter',
  data: { datasets: [] },
  options: { scales: cropScales(0, 1056, 0, 1050) },
  plugins: [lifePlugin]
});

// ---------- I ----------
const flowPlugin = {
  id: 'sankey',
  beforeDatasetsDraw(c) {
    const { ctx, scales: { x, y } } = c;
    const byName = {}, outOffset = {}, inOffset = {};
    flowNodes.forEach(n => { byName[n[0]] = n; outOffset[n[0]] = 0; inOffset[n[0]] = 0; });
    flowLinks.forEach(l => {
      const s = byName[l[0]], t = byName[l[1]], v = l[2];
      const x0 = x.getPixelForValue(s[1] + 19), x1 = x.getPixelForValue(t[1]);
      const a0 = y.getPixelForValue(s[2] + outOffset[l[0]]), b0 = y.getPixelForValue(s[2] + outOffset[l[0]] + v);
      const a1 = y.getPixelForValue(t[2] + inOffset[l[1]]), b1 = y.getPixelForValue(t[2] + inOffset[l[1]] + v);
      outOffset[l[0]] += v;
      inOffset[l[1]] += v;
      const mx = (x0 + x1) / 2, g = ctx.createLinearGradient(x0, 0, x1, 0);
      g.addColorStop(0, s[4]);
      g.addColorStop(1, t[4]);
      ctx.globalAlpha = .52;
      ctx.fillStyle = g;
      ctx.beginPath();
      ctx.moveTo(x0, a0);
      ctx.bezierCurveTo(mx, a0, mx, a1, x1, a1);
      ctx.lineTo(x1, b1);
      ctx.bezierCurveTo(mx, b1, mx, b0, x0, b0);
      ctx.closePath();
      ctx.fill();
      ctx.globalAlpha = 1;
    });
    flowNodes.forEach(n => {
      const l = x.getPixelForValue(n[1]), r = x.getPixelForValue(n[1] + 19), a = y.getPixelForValue(n[2]), b = y.getPixelForValue(n[3]);
      ctx.fillStyle = n[4];
      ctx.strokeStyle = 'rgba(60,60,60,.55)';
      ctx.lineWidth = .5;
      ctx.fillRect(l, a, r - l, b - a);
      ctx.strokeRect(l, a, r - l, b - a);
      const right = n[1] > 1000;
      text(ctx, n[0], right ? l - 1.5 : r + 1.5, (a + b) / 2, '3.9px ' + FONT, '#222', right ? 'right' : 'left');
    });
  }
};
addChart(0, 720, 370, 323, {
  type: 'scatter',
  data: { datasets: [] },
  options: { scales: cropScales(0, 1110, 0, 969) },
  plugins: [flowPlugin]
});

// ---------- J ----------
const packGroups = [[packGray, '#CFC8C3'], [packBrown, '#BF9E8A'], [packPurple, '#C78CB8'], [packOrange, '#FFA933'], [packBlue, '#6F9BC9'], [packYellow, '#FFD63A'], [packTeal, '#7CC5BF'], [packRed, '#FF7F7F'], [packPink, '#FFB4BE'], [packGreen, '#55B96A']];
const packPlugin = {
  id: 'packLabels',
  afterDatasetsDraw(c) {
    const { ctx, scales: { x, y } } = c;
    packGroups.forEach(g => g[0].forEach(b => {
      if (!b[3] || b[2] < 12) return;
      const lines = b[3].split(' ').concat(b[4] ? [b[4]] : []);
      const cy = y.getPixelForValue(b[1]), lh = 3.7;
      lines.forEach((w, i) => text(ctx, w, x.getPixelForValue(b[0]), cy + (i - (lines.length - 1) / 2) * lh, '3.2px ' + FONT, 'rgba(50,45,45,.85)'));
    }));
  }
};
addChart(370, 725, 320, 318, {
  type: 'bubble',
  data: { datasets: packGroups.map(g => ({
    data: g[0].map(b => ({ x: b[0], y: b[1], r: b[2] / 3 })),
    backgroundColor: g[1], borderWidth: 0
  })) },
  options: { scales: cropScales(0, 960, 0, 954) },
  plugins: [packPlugin]
});

// ---------- K ----------
const hivePlugin = {
  id: 'hive',
  beforeDatasetsDraw(c) {
    const { ctx, scales: { x, y } } = c;
    const px = v => x.getPixelForValue(v), py = v => y.getPixelForValue(v);
    const onAxis = (ax, t) => [ax[0] + (ax[2] - ax[0]) * t, ax[1] + (ax[3] - ax[1]) * t];
    const fan = (pairs, a, b, color) => {
      ctx.strokeStyle = color;
      ctx.lineWidth = .7;
      pairs.forEach(p => {
        const s = onAxis(hiveAxes[a], p[0]), e = onAxis(hiveAxes[b], p[1]);
        const mx = (s[0] + e[0]) / 2, my = (s[1] + e[1]) / 2, dx = mx - 500, dy = my - 520, d = Math.hypot(dx, dy), len = Math.hypot(e[0] - s[0], e[1] - s[1]);
        ctx.beginPath();
        ctx.moveTo(px(s[0]), py(s[1]));
        ctx.quadraticCurveTo(px(mx + dx / d * len * .14), py(my + dy / d * len * .14), px(e[0]), py(e[1]));
        ctx.stroke();
      });
    };
    ctx.strokeStyle = 'rgba(110,110,110,.8)';
    ctx.lineWidth = .6;
    hiveArcs.forEach(h => {
      ctx.beginPath();
      ctx.moveTo(px(h[0]), py(h[1]));
      ctx.quadraticCurveTo(px(h[4]), py(h[5]), px(h[2]), py(h[3]));
      ctx.stroke();
    });
    fan(hiveOrange, 0, 1, 'rgba(255,140,30,.6)');
    fan(hiveGreen, 4, 5, 'rgba(30,140,40,.5)');
    fan(hiveBlue, 2, 3, 'rgba(50,120,190,.55)');
  }
};
addChart(690, 740, 330, 300, {
  type: 'scatter',
  data: { datasets: [lineSet(hiveAxes, '#111', 3.2)] },
  options: { scales: cropScales(0, 990, 0, 900) },
  plugins: [hivePlugin]
});

// ---------- L ----------
const pcaEllipses = [
  [-2.22, -.275, 88.5, 26, 88.7, 'rgba(20,110,100,.11)', '#2A9D7E'],
  [.5, .56, 88, 41, 55, 'rgba(255,130,40,.14)', '#D8622A'],
  [1.73, -.26, 94, 53, 53, 'rgba(117,112,179,.16)', '#7570B3']
];
const pcaPlugin = {
  id: 'pca',
  beforeDatasetsDraw(c) {
    const { ctx, scales: { x, y } } = c;
    pcaEllipses.forEach(e => {
      ctx.beginPath();
      ctx.ellipse(x.getPixelForValue(e[0]), y.getPixelForValue(e[1]), e[2], e[3], e[4] * Math.PI / 180, 0, 2 * Math.PI);
      ctx.fillStyle = e[5];
      ctx.fill();
      ctx.strokeStyle = e[6];
      ctx.lineWidth = 1;
      ctx.stroke();
    });
    text(ctx, 'PC1', x.getPixelForValue(0), 248, '20px Lato', '#333');
  }
};
addChart(1005, 785, 367, 258, {
  type: 'scatter',
  data: { datasets: [
    { data: toPoints(pcaGreen), backgroundColor: '#0A8A6A', pointRadius: 2, borderWidth: 0 },
    { data: toPoints(pcaOrange), backgroundColor: '#D4500F', pointStyle: 'triangle', pointRadius: 2.6, borderWidth: 0 },
    { data: toPoints(pcaPurple), backgroundColor: '#6A55A8', pointStyle: 'rect', pointRadius: 2.1, borderWidth: 0 },
    { data: toPoints([pcaCentroids[0]]), backgroundColor: '#D4500F', pointStyle: 'triangle', pointRadius: 4.5, borderWidth: 0 },
    { data: toPoints([pcaCentroids[1]]), backgroundColor: '#6A55A8', pointStyle: 'rect', pointRadius: 4, borderWidth: 0 },
    Object.assign(lineSet([[-3.06, 0, 3.6, 0], [0, -2.92, 0, 2.92]], '#333', 1), { borderDash: [4, 3] })
  ] },
  options: {
    layout: { padding: { top: 5.7 } },
    scales: {
      x: {
        type: 'linear', min: -3.06, max: 3.6, border: { display: false },
        grid: { color: '#EBEBEB', tickLength: 2 },
        ticks: { stepSize: 1, includeBounds: false, font: { size: 6 }, color: '#555', padding: 2, maxRotation: 0, callback: v => (v % 2 === 0 ? v : '') },
        afterFit(s) { s.height = 33; }
      },
      y: {
        type: 'linear', min: -2.92, max: 2.92, border: { display: false },
        grid: { color: '#EBEBEB', tickLength: 2 },
        ticks: { stepSize: .5, includeBounds: false, autoSkip: false, font: { size: 6 }, color: '#555', padding: 2, callback: v => (Number.isInteger(v) ? v : '') },
        title: { display: true, text: 'PC2', font: { size: 20, family: 'Lato' }, color: '#333', padding: 0 },
        afterFit(s) { s.width = 36.7; }
      }
    }
  },
  plugins: [pcaPlugin]
});

// ---------- panel letters ----------
panelTags.forEach(t => {
  const d = document.createElement('div');
  d.className = 'tag';
  d.textContent = t[0];
  d.style.left = t[1] + 'px';
  d.style.top = t[2] + 'px';
  document.body.appendChild(d);
});
</script>
</body>
</html>
